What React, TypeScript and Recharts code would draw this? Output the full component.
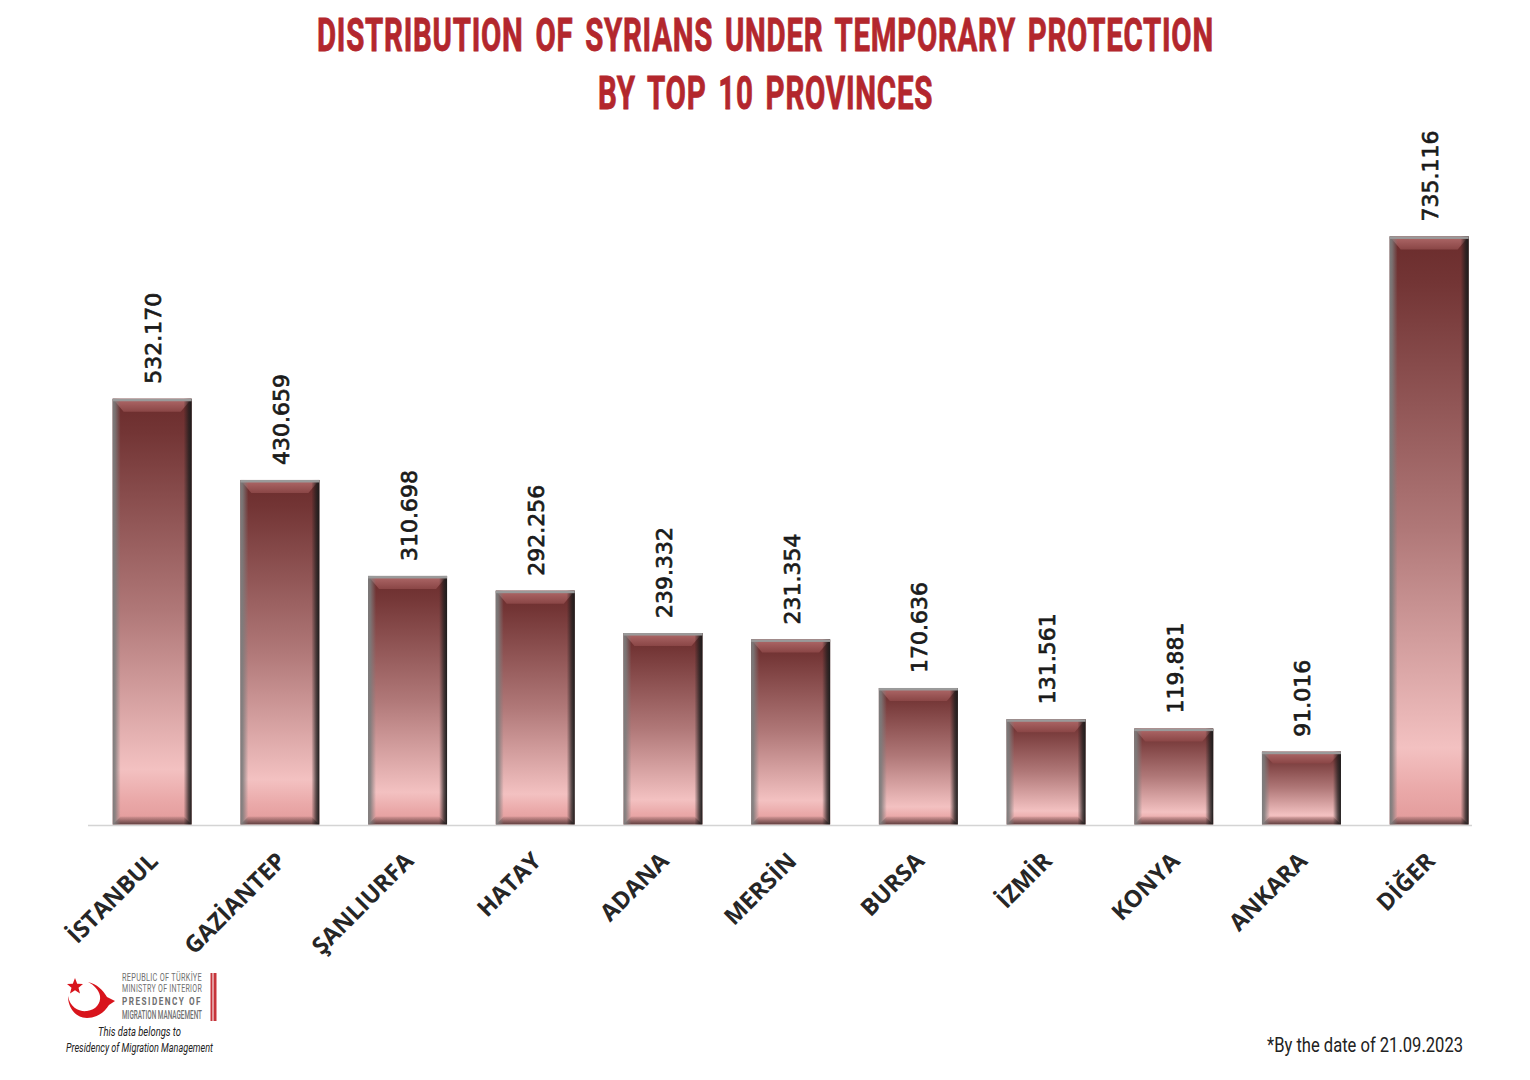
import { Bar, BarChart, LabelList, XAxis, YAxis } from 'recharts';

const provinces = ['İSTANBUL', 'GAZİANTEP', 'ŞANLIURFA', 'HATAY', 'ADANA', 'MERSİN', 'BURSA', 'İZMİR', 'KONYA', 'ANKARA', 'DİĞER'];
const people = [532170, 430659, 310698, 292256, 239332, 231354, 170636, 131561, 119881, 91016, 735116];

const rows = provinces.map((province, i) => ({ province, people: people[i] }));

const RED = '#b3272d';
const formatDots = (n: number) => String(n).replace(/\B(?=(\d{3})+(?!\d))/g, '.');

function BevelBar({ x, y, width, height }: any) {
  const side = 8;
  const topH = Math.min(10, height * 0.12) + 3;
  const botH = 8;
  const r = x + width;
  const b = y + height;
  return (
    <g>
      <rect x={x} y={y} width={width} height={height} fill="url(#barFill)" />
      <polygon points={`${x},${y} ${r},${y} ${r - side - 3},${y + topH} ${x + side + 3},${y + topH}`} fill="url(#barTop)" />
      <polygon points={`${x},${b} ${r},${b} ${r - side},${b - botH} ${x + side},${b - botH}`} fill="url(#barBottom)" />
      <rect x={x} y={y} width={side} height={height} fill="url(#barLeft)" />
      <rect x={r - side} y={y} width={side} height={height} fill="url(#barRight)" />
      <rect x={x} y={y} width={width} height={2.5} fill="#9a9a9a" />
    </g>
  );
}

function ProvinceTick({ x, y, payload }: any) {
  return (
    <text
      transform={`translate(${x + 7},${y + 30}) rotate(-45)`}
      textAnchor="end"
      fontFamily="'Open Sans', sans-serif"
      fontWeight={700}
      fontSize={23.5}
      fill="#262626"
    >
      {payload.value}
    </text>
  );
}

function ValueLabel({ x, y, width, value }: any) {
  return (
    <text
      transform={`translate(${x + width / 2 + 9},${y - 15}) rotate(-90)`}
      fontFamily="'DejaVu Sans', sans-serif"
      fontSize={22}
      fill="#1a1a1a"
      stroke="#1a1a1a"
      strokeWidth={0.7}
    >
      {formatDots(value)}
    </text>
  );
}

function Overlay() {
  return (
    <svg width={1530} height={1080} style={{ position: 'absolute', left: 0, top: 0, pointerEvents: 'none' }}>
      <line x1={88} x2={1472} y1={825.5} y2={825.5} stroke="#d4d4d4" strokeWidth={1.5} />

      <g fontFamily="Roboto, sans-serif" fontWeight={700} fill={RED} stroke={RED} strokeWidth={0.9} fontSize={47} letterSpacing={1.2} wordSpacing={6}>
        <text transform="translate(317,51) scale(0.68,1)" textLength={1319} lengthAdjust="spacingAndGlyphs">DISTRIBUTION OF SYRIANS UNDER TEMPORARY PROTECTION</text>
        <text transform="translate(598,109) scale(0.68,1)" textLength={493} lengthAdjust="spacingAndGlyphs">BY TOP 10 PROVINCES</text>
      </g>

      <text x={1267} y={1052} textLength={196} lengthAdjust="spacingAndGlyphs" fontFamily="Roboto, sans-serif" fontSize={21} fill="#222">*By the date of 21.09.2023</text>

      {/* logo */}
      <polygon points="75,978 77.2,983.8 83,984 78.5,987.7 80,993.5 75,990.2 70,993.5 71.5,987.7 67,984 72.8,983.8" fill="#d8141c" />
      <path d="M88,982 C97,984 103,990 107,997 L115,1001 L109,1005 C104,1013 96,1018 87,1018 C76,1018 68,1008 68,996 C70,1008 80,1012 87,1011 C96,1010 101,1003 100,996 C99,990 94,985 88,982 Z" fill="#d8141c" />
      <g fontFamily="Roboto, sans-serif" fill="#6f6f6f">
        <text x={122} y={981} fontSize={10} letterSpacing={0.4} textLength={80} lengthAdjust="spacingAndGlyphs">REPUBLIC OF TÜRKİYE</text>
        <text x={122} y={992} fontSize={10} letterSpacing={0.4} textLength={80} lengthAdjust="spacingAndGlyphs">MINISTRY OF INTERIOR</text>
        <text x={122} y={1005} fontSize={11} fontWeight={700} letterSpacing={2} textLength={80} lengthAdjust="spacingAndGlyphs">PRESIDENCY OF</text>
        <text x={122} y={1019} fontSize={12} fontWeight={500} textLength={80} lengthAdjust="spacingAndGlyphs">MIGRATION MANAGEMENT</text>
      </g>
      <rect x={210.5} y={973} width={2} height={48} fill="#c6343a" />
      <rect x={213.5} y={973} width={3} height={48} fill="#c6343a" />
      <g fontFamily="Roboto, sans-serif" fontStyle="italic" fill="#222" fontSize={12}>
        <text x={98} y={1036} textLength={83} lengthAdjust="spacingAndGlyphs">This data belongs to</text>
        <text x={66} y={1052} textLength={147} lengthAdjust="spacingAndGlyphs">Presidency of Migration Management</text>
      </g>
    </svg>
  );
}

export default function App() {
  return (
    <div style={{ position: 'absolute', left: 0, top: 0, width: 1530, height: 1080, background: '#fff' }}>
      <BarChart
        width={1530}
        height={1080}
        data={rows}
        margin={{ top: 184.5, right: 36.65, bottom: 0, left: 88.65 }}
      >
        <defs>
          <linearGradient id="barFill" x1="0" y1="0" x2="0" y2="1">
            <stop offset="0" stopColor="#6b2c2c" />
            <stop offset="0.08" stopColor="#733535" />
            <stop offset="0.5" stopColor="#b07878" />
            <stop offset="0.87" stopColor="#f3c1c1" />
            <stop offset="0.94" stopColor="#eaa9a9" />
            <stop offset="1" stopColor="#e29a9a" />
          </linearGradient>
          <linearGradient id="barTop" x1="0" y1="0" x2="0" y2="1">
            <stop offset="0" stopColor="#b06a6a" />
            <stop offset="1" stopColor="#8a4646" />
          </linearGradient>
          <linearGradient id="barBottom" x1="0" y1="1" x2="0" y2="0">
            <stop offset="0" stopColor="#4a3030" stopOpacity={0.85} />
            <stop offset="1" stopColor="#4a3030" stopOpacity={0.1} />
          </linearGradient>
          <linearGradient id="barLeft" x1="0" y1="0" x2="1" y2="0">
            <stop offset="0" stopColor="#7c7c7c" stopOpacity={1} />
            <stop offset="0.3" stopColor="#7c7c7c" stopOpacity={0.85} />
            <stop offset="1" stopColor="#7c7c7c" stopOpacity={0} />
          </linearGradient>
          <linearGradient id="barRight" x1="0" y1="0" x2="1" y2="0">
            <stop offset="0" stopColor="#1c1c1c" stopOpacity={0} />
            <stop offset="0.6" stopColor="#1c1c1c" stopOpacity={0.7} />
            <stop offset="1" stopColor="#1c1c1c" stopOpacity={1} />
          </linearGradient>
        </defs>
        <XAxis
          dataKey="province"
          height={255.5}
          interval={0}
          axisLine={false}
          tickLine={false}
          tick={<ProvinceTick />}
        />
        <YAxis hide domain={[0, 800000]} />
        <Bar dataKey="people" barSize={79} shape={<BevelBar />} isAnimationActive={false}>
          <LabelList dataKey="people" content={<ValueLabel />} />
        </Bar>
      </BarChart>
      <Overlay />
    </div>
  );
}
